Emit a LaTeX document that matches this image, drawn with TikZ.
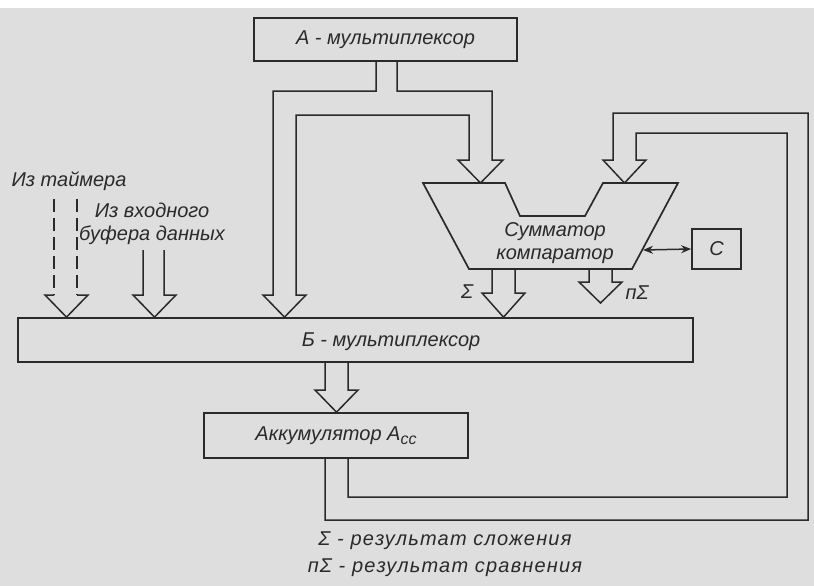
\documentclass[tikz,border=0pt]{standalone}
\usepackage{fontspec}
\setmainfont{Liberation Sans}
\newfontfamily\widefont[LetterSpace=6]{Liberation Sans}
\usetikzlibrary{arrows.meta}
\definecolor{paper}{HTML}{DEDEDE}
\definecolor{ink}{HTML}{2A2A2A}
\tikzset{
  block/.style={rectangle, draw=ink, line width=1.7pt, inner sep=0pt},
  bus/.style={draw=ink, line width=1.5pt, line join=miter},
  lbl/.style={text=ink, font=\fontsize{20}{23}\selectfont\itshape, align=center, inner sep=0pt},
  arrow/.style={bus, {Stealth[length=10pt,width=8pt]}-{Stealth[length=10pt,width=8pt]}},
}
\begin{document}
\begin{tikzpicture}[x=1pt,y=-1pt]
\fill[paper] (0,8) rectangle (814,586);
\useasboundingbox (0,0) rectangle (814,586);

% blocks
\node (amux) [block, lbl, minimum width=263pt, minimum height=43pt] at (385.5,39.5) {А - мультиплексор};
\node (bmux) [block, minimum width=675pt, minimum height=44pt] at (355.5,340) {};
\node (bmuxlbl) [lbl] at (391,342) {Б - мультиплексор};
\node (acc) [block, lbl, minimum width=264pt, minimum height=45pt] at (336,435.5) {Аккумулятор A\raisebox{-0.35ex}{\fontsize{16}{16}\selectfont cc}};
\node (cbox) [block, lbl, minimum width=49pt, minimum height=40pt] at (716.5,249) {C};

% adder / comparator
\draw[block] (423,183) coordinate (addtl) -- (505,183) -- (520,216) -- (585,216)
  -- (603,183) -- (678,183) -- (632,269) coordinate (addbr) -- (469,269) -- cycle;
\node (adder) [lbl] at (555,243) {Сумматор\\компаратор};
\coordinate (inL) at (480.5,183);
\coordinate (inR) at (624.5,183);
\coordinate (addr) at (643,250);
\coordinate (nsig) at (600.5,303);
\coordinate (tmr) at (65.5,199);
\coordinate (buf) at (153.5,250);

% A-mux to B-mux and adder
\draw[bus] (376,0 |- amux.south) -- (376,91) -- (273,91) -- (273,295) -- (263,295)
  -- (284.5,0 |- bmux.north) -- (306,295) -- (296,295) -- (296,115) -- (469,115)
  -- (469,160) -- (458,160) -- (inL) -- (503,160) -- (492,160) -- (492,91)
  -- (397,91) -- (397,0 |- amux.south);

% accumulator feedback
\draw[bus] (325,0 |- acc.south) -- (325,520) -- (808,520) -- (808,113) -- (613,113)
  -- (613,160) -- (603,160) -- (inR) -- (646,160) -- (636,160) -- (636,133)
  -- (787,133) -- (787,497) -- (348,497) -- (348,0 |- acc.south);

% B-mux to accumulator
\draw[bus] (325,0 |- bmux.south) -- (325,390) -- (315,390) -- (336.5,0 |- acc.north)
  -- (358,390) -- (348,390) -- (348,0 |- bmux.south);

% sum and compare outputs
\draw[bus] (492,0 |- addbr) -- (492,293) -- (482,293) -- (503.5,0 |- bmux.north)
  -- (525,293) -- (515,293) -- (515,0 |- addbr);
\draw[bus] (589,0 |- addbr) -- (589,282) -- (579,282) -- (nsig) -- (622,282)
  -- (612,282) -- (612,0 |- addbr);
\draw[arrow] (addr) -- (cbox.west);

% timer and input buffer
\draw[bus, dash pattern=on 13pt off 6pt] ([xshift=-11.5pt]tmr) -- (54,295);
\draw[bus, dash pattern=on 13pt off 6pt] ([xshift=11.5pt]tmr) -- (77,295);
\draw[bus] (54,295) -- (45,295) -- (66.5,0 |- bmux.north) -- (88,295) -- (77,295);
\draw[bus] ([xshift=-10.5pt]buf) -- (143,295) -- (133,295) -- (154.5,0 |- bmux.north)
  -- (176,295) -- (164,295) -- ([xshift=10.5pt]buf);

% labels
\node (tmrlbl) [lbl] at (69,181) {Из таймера};
\node (buflbl) [lbl] at (152,223.5) {Из входного\\буфера данных};
\node (sig) [lbl] at (467,292) {Σ};
\node (nsiglbl) [lbl] at (637,293) {пΣ};
\node (legend) [lbl, font=\fontsize{20}{27}\selectfont\widefont\itshape] at (445,554.5)
  {Σ - результат сложения\\пΣ - результат сравнения};
\end{tikzpicture}
\end{document}
